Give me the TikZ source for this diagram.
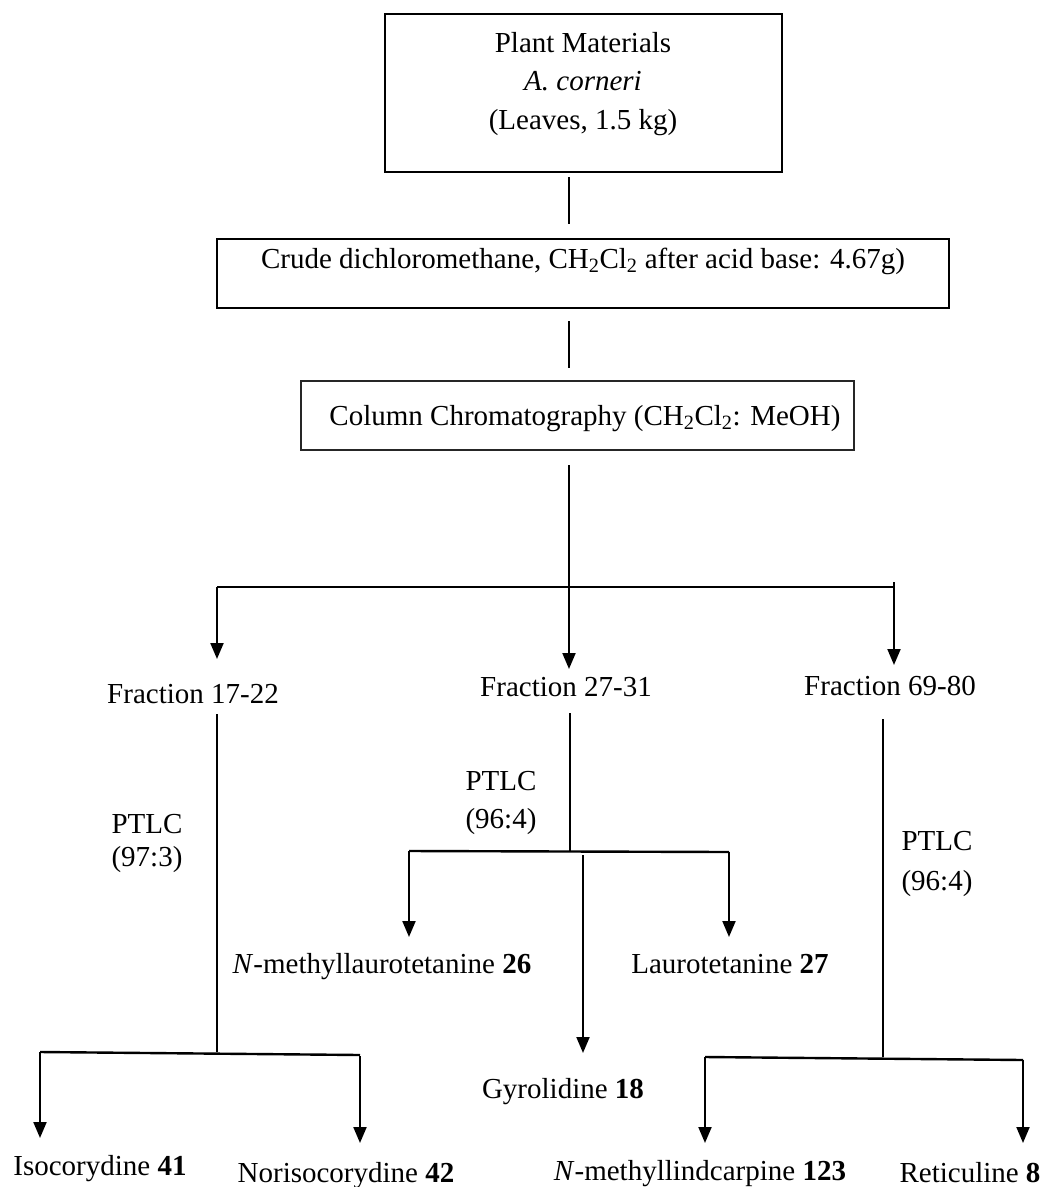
\documentclass[tikz,border=0pt]{standalone}
\usepackage{fontspec}
\setmainfont{Liberation Serif}
\usetikzlibrary{arrows.meta}
\begin{document}
\begin{tikzpicture}[x=1pt,y=-1pt,
  txt/.style={font=\fontsize{29}{38}\selectfont, inner sep=0pt, anchor=base},
  boxed/.style={draw, line width=2pt, inner sep=0pt},
  link/.style={line width=1.4pt},
  bar/.style={line width=2.4pt},
  arr/.style={line width=2pt, -{Triangle[length=16pt,width=13pt]}},
]
\useasboundingbox (0,0) rectangle (1047,1187);
\fill[white] (0,0) rectangle (1047,1187);

% ---- boxes ----
\node[boxed, minimum width=397pt, minimum height=158pt] (box1) at (583.5,93) {};
\node[boxed, minimum width=732pt, minimum height=69pt] (box2) at (583,273.5) {};
\node[boxed, line width=1.8pt, draw=black!85, minimum width=553pt, minimum height=69pt] (box3) at (577.5,415.5) {};

\node[txt] (t1a) at (583,52) {Plant Materials};
\node[txt] (t1b) at (583,90) {\textit{A. corneri}};
\node[txt] (t1c) at (583,129) {(Leaves, 1.5 kg)};
\node[txt] (t2) at (583,268) {Crude dichloromethane, CH\textsubscript{2}Cl\textsubscript{2} after acid base: 4.67g)};
\node[txt] (t3) at (585,425) {Column Chromatography (CH\textsubscript{2}Cl\textsubscript{2}: MeOH)};

% ---- trunk between boxes ----
\coordinate (c1a) at (569,177); \coordinate (c1b) at (569,224);
\coordinate (c2a) at (569,321); \coordinate (c2b) at (569,368);
\coordinate (c3a) at (569,465); \coordinate (j0) at (569,587);
\draw[link] (c1a) -- (c1b);
\draw[link] (c2a) -- (c2b);
\draw[link] (c3a) -- (j0);

% ---- first split ----
\coordinate (j0l) at (217,587); \coordinate (j0r) at (894,587);
\draw[bar] (j0l) -- (j0r);
\coordinate (e1) at (217,659); \coordinate (e2) at (569,669); \coordinate (e3) at (894,665);
\coordinate (j0r0) at (894,582);
\draw[arr] (j0l) -- (e1);
\draw[arr] (j0) -- (e2);
\draw[arr] (j0r0) -- (e3);

\node[txt] (f1) at (193,703) {Fraction 17-22};
\node[txt] (f2) at (566,696) {Fraction 27-31};
\node[txt] (f3) at (890,695) {Fraction 69-80};

% ---- fraction 17-22 ----
\coordinate (g1a) at (217,714); \coordinate (g1) at (217,1052);
\draw[link] (g1a) -- (g1);
\node[txt] (p1a) at (147,833) {PTLC};
\node[txt] (p1b) at (147,866) {(97:3)};
\coordinate (g1l) at (40,1052); \coordinate (g1r) at (360,1055);
\draw[bar] (g1l) -- (g1r);
\coordinate (h1l) at (40,1138); \coordinate (g1r0) at (360,1056); \coordinate (h1r) at (360,1143);
\draw[arr] (g1l) -- (h1l);
\draw[arr] (g1r0) -- (h1r);
\node[txt] (n41) at (100,1175) {Isocorydine \textbf{41}};
\node[txt] (n42) at (346,1182) {Norisocorydine \textbf{42}};

% ---- fraction 27-31 ----
\coordinate (g2a) at (570,713); \coordinate (g2) at (570,851);
\draw[link] (g2a) -- (g2);
\node[txt] (p2a) at (501,790) {PTLC};
\node[txt] (p2b) at (501,828) {(96:4)};
\coordinate (g2l) at (409,851); \coordinate (g2r) at (729,852);
\draw[bar] (g2l) -- (g2r);
\coordinate (h2l) at (409,937); \coordinate (h2r) at (729,937);
\coordinate (g2m) at (583,855); \coordinate (h2m) at (583,1053);
\draw[arr] (g2l) -- (h2l);
\draw[arr] (g2r) -- (h2r);
\draw[arr] (g2m) -- (h2m);
\node[txt] (n26) at (382,973) {\textit{N}-methyllaurotetanine \textbf{26}};
\node[txt] (n27) at (730,973) {Laurotetanine \textbf{27}};
\node[txt] (n18) at (563,1098) {Gyrolidine \textbf{18}};

% ---- fraction 69-80 ----
\coordinate (g3a) at (883,719); \coordinate (g3) at (883,1057);
\draw[link] (g3a) -- (g3);
\node[txt] (p3a) at (937,850) {PTLC};
\node[txt] (p3b) at (937,890) {(96:4)};
\coordinate (g3l) at (705,1057); \coordinate (g3r) at (1023,1060);
\draw[bar] (g3l) -- (g3r);
\coordinate (h3l) at (705,1143); \coordinate (h3r) at (1023,1143);
\draw[arr] (g3l) -- (h3l);
\draw[arr] (g3r) -- (h3r);
\node[txt] (n123) at (700,1180) {\textit{N}-methyllindcarpine \textbf{123}};
\node[txt] (n8) at (970,1182) {Reticuline \textbf{8}};
\end{tikzpicture}
\end{document}
